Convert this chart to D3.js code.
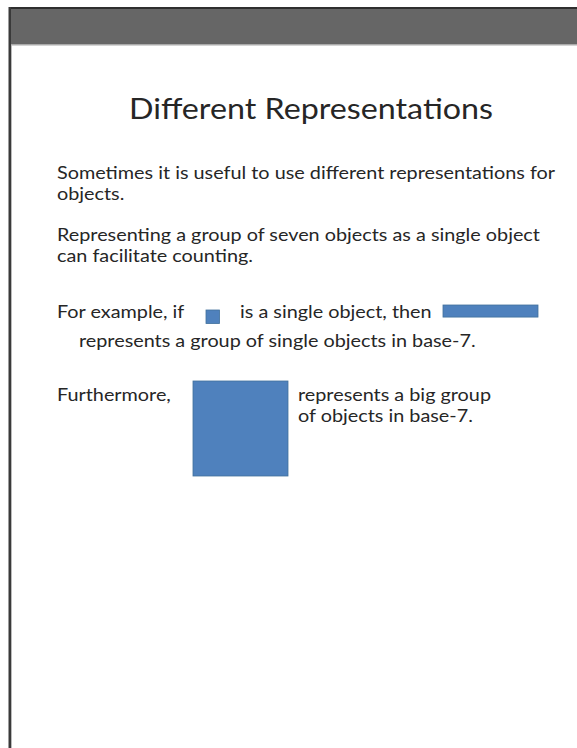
<!DOCTYPE html>
<html><head><meta charset="utf-8">
<script src="https://cdn.jsdelivr.net/npm/d3@7"></script>
<style>body{margin:0;background:#fff;overflow:hidden}</style>
</head><body>
<svg id="c" width="577" height="748"></svg>
<script>
// ---- content ----
const title = "Different Representations";
const para1 = ["Sometimes it is useful to use different representations for", "objects."];
const para2 = ["Representing a group of seven objects as a single object", "can facilitate counting."];
const para3a = ["For example, if", "is a single object, then"];
const para3b = ["represents a group of single objects in base-7."];
const para4a = ["Furthermore,"];
const para4b = ["represents a big group", "of objects in base-7."];
// shapes measured in "single object" units (columns x rows)
const shapeNames = ["single", "group", "bigGroup"];
const shapeCols = [1, 7, 7];
const shapeRows = [1, 1, 7];

const svg = d3.select("#c");
const W = 577, H = 748;
const unit = d3.scaleLinear().domain([0, 7]).range([0, 95]);
const blue = "#4f81bd", blueEdge = "#41719c", ink = "#262626";

// slide frame
svg.append("rect").attr("x", 9).attr("y", 7).attr("width", W - 9).attr("height", 38).attr("fill", "#666");
svg.append("rect").attr("x", 9).attr("y", 7).attr("width", W - 9).attr("height", 2).attr("fill", "#2e2e2e");
svg.append("rect").attr("x", 9).attr("y", 44).attr("width", W - 9).attr("height", 1.5).attr("fill", "#aaa");
svg.append("rect").attr("x", 8.5).attr("y", 7).attr("width", 2.5).attr("height", H - 7).attr("fill", "#3a3a3a");
svg.append("rect").attr("x", 11).attr("y", 45).attr("width", 1).attr("height", H - 45).attr("fill", "#bbb");

const font = "Lato, 'Open Sans', sans-serif";

function txt(s, x, y, size) {
  return svg.append("text").attr("x", x).attr("y", y)
    .attr("font-family", font).attr("font-size", size).attr("fill", ink).text(s);
}

// title
const t = txt(title, 311, 119, 28).attr("text-anchor", "middle");
t.attr("textLength", 364).attr("lengthAdjust", "spacingAndGlyphs");

// body: calibrate horizontal compression from the first line
const fs = 18;
const probe = txt(para1[0], 57, 179, fs);
const k = 498 / probe.node().getComputedTextLength();
probe.remove();
function body(s, x, y) {
  const n = txt(s, x, y, fs);
  const w = n.node().getComputedTextLength();
  n.attr("textLength", w * k).attr("lengthAdjust", "spacingAndGlyphs");
  return n;
}
body(para1[0], 57, 179);
body(para1[1], 57, 200);
body(para2[0], 57, 241);
body(para2[1], 57, 262);
body(para3a[0], 57, 318);
body(para3a[1], 240, 318);
body(para3b[0], 79, 347);
body(para4a[0], 57, 401);
body(para4b[0], 298, 401);
body(para4b[1], 298, 422);

// shapes
const shapePos = { single: [206, 310], group: [443, 305], bigGroup: [193, 381] };
svg.selectAll("rect.shape").data(shapeNames).join("rect")
  .attr("class", "shape")
  .attr("x", (d) => shapePos[d][0])
  .attr("y", (d) => shapePos[d][1])
  .attr("width", (d, i) => unit(shapeCols[i]))
  .attr("height", (d, i) => d === "group" ? unit(shapeRows[i]) - 1.5 : unit(shapeRows[i]))
  .attr("fill", blue).attr("stroke", blueEdge).attr("stroke-width", 0.8);
</script>
</body></html>
